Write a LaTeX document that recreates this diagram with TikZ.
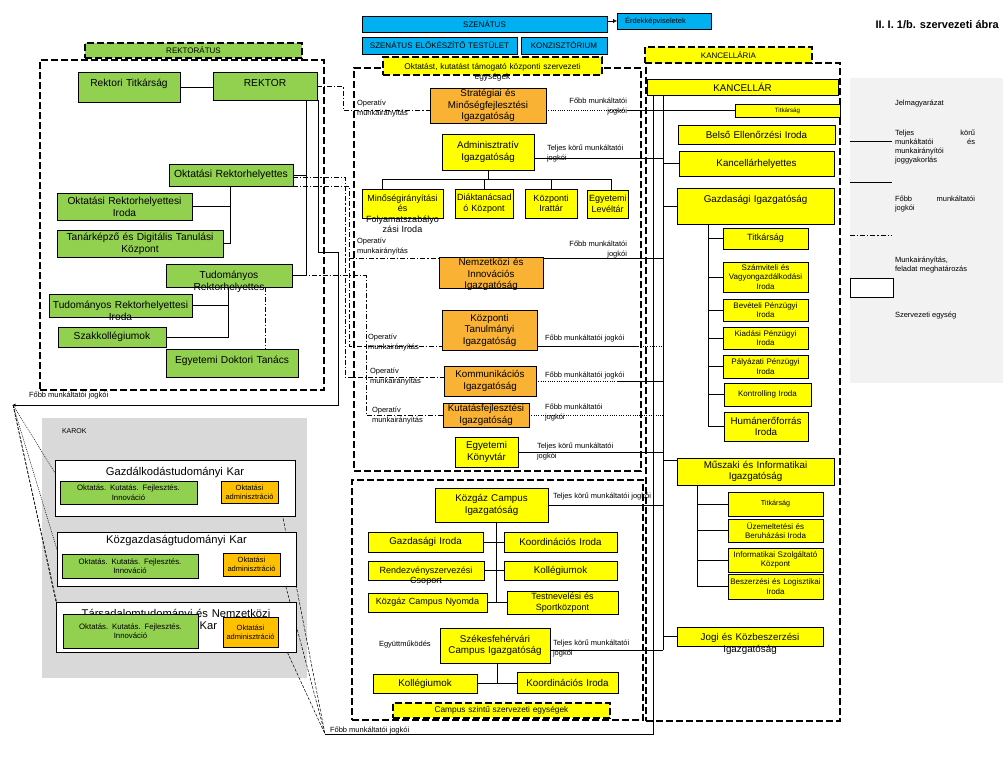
\documentclass[tikz,border=0pt]{standalone}
\usepackage{fontspec}
\setmainfont{Liberation Sans}
\usetikzlibrary{arrows.meta,calc}
\definecolor{cblue}{HTML}{00B0F0}
\definecolor{cgreen}{HTML}{92D050}
\definecolor{cyel}{HTML}{FFFF00}
\definecolor{corg}{HTML}{F9B233}
\definecolor{corgb}{HTML}{FFC000}
\definecolor{cgrey}{HTML}{D9D9D9}
\definecolor{clgrey}{HTML}{F2F2F2}
\newcommand{\ubox}[7]{%
  \pgfmathsetmacro\bxw{#5-#3}%
  \pgfmathsetmacro\bxh{#6-#4}%
  \pgfmathsetmacro\bxtw{max(#5-#3-4,4)}%
  \node[#1, minimum width=\bxw pt, minimum height=\bxh pt, text width=\bxtw pt] (#2) at (#3,#4) {#7};}
\newcommand{\TopTxt}[2][0]{\noindent\raisebox{#1pt}[0pt][0pt]{\parbox[t]{\bxtw pt}{\centering #2}}}
\pgfdeclarelayer{back}
\pgfdeclarelayer{mid}
\pgfsetlayers{back,mid,main}
\tikzset{
  base/.style={draw=black, line width=0.75pt, inner sep=1pt, outer sep=0pt, align=center, anchor=north west},
  bbox/.style={base, fill=cblue, font=\fontsize{8}{9}\selectfont},
  gbox/.style={base, fill=cgreen, font=\fontsize{10.2}{12}\selectfont},
  ybox/.style={base, fill=cyel, font=\fontsize{9.8}{11.5}\selectfont},
  obox/.style={base, fill=corg, font=\fontsize{9.8}{11.5}\selectfont},
  abox/.style={base, fill=corgb, font=\fontsize{7.5}{9}\selectfont},
  kgbox/.style={base, fill=cgreen, font=\fontsize{7.8}{9.5}\selectfont},
  wbox/.style={base, fill=white, font=\fontsize{11.2}{12.5}\selectfont},
  area/.style={base, fill=none, line width=2.6pt, dash pattern=on 7pt off 3pt},
  tagbox/.style={base, fill=cyel, line width=2.6pt, dash pattern=on 7pt off 3pt, font=\fontsize{8.3}{10}\selectfont},
  bg/.style={base, draw=none},
  fs6/.style={font=\fontsize{6.2}{7.5}\selectfont},
  fs7/.style={font=\fontsize{7.2}{8.5}\selectfont},
  fs8/.style={font=\fontsize{8}{9.5}\selectfont},
  fs9/.style={font=\fontsize{9}{10.5}\selectfont},
  fs10/.style={font=\fontsize{10.4}{12}\selectfont},
  dd/.style={dash pattern=on 5pt off 2pt on 1.2pt off 2pt},
  dot/.style={dash pattern=on 1pt off 1.3pt},
  fanA/.style={line width=0.5pt, dash pattern=on 1pt off 1pt},
  fanB/.style={line width=0.5pt, dash pattern=on 3pt off 1.5pt},
  lbl/.style={font=\fontsize{7.5}{9.5}\selectfont, inner sep=0pt, outer sep=0pt, anchor=north west, align=left},
}
\begin{document}
\begin{tikzpicture}[x=1pt,y=-1pt,line width=0.7pt]
\begin{pgfonlayer}{back}
\fill[white] (0,0) rectangle (1008,756);
\ubox{bg, fill=cgrey}{karok}{42}{418}{307}{678}{}
\ubox{bg, fill=clgrey}{legend}{850}{78}{1003}{383}{}
\ubox{area}{rarea}{40}{60}{324}{390}{}
\ubox{area}{marea}{354}{68}{641}{471}{}
\ubox{area}{carea}{352}{480}{643}{720}{}
\ubox{area}{karea}{646}{63}{840}{721}{}
\end{pgfonlayer}
\useasboundingbox (0,0) rectangle (1008,756);

% ---------- top ----------
\ubox{bbox}{szen}{362}{16}{607}{32}{SZENÁTUS}
\ubox{bbox, align=left, font=\fontsize{7.5}{9}\selectfont}{erdek}{617}{13}{711}{29}{\hspace*{6pt}Érdekképviseletek}
\ubox{bbox}{szet}{362}{37}{517}{54}{SZENÁTUS ELŐKÉSZÍTŐ TESTÜLET}
\ubox{bbox}{konz}{521}{37}{607}{54}{KONZISZTÓRIUM}
\node[anchor=east, font=\bfseries\fontsize{11}{13}\selectfont, inner sep=0pt] (title) at (999,25) {II. I. 1/b. szervezeti ábra};

\ubox{tagbox, fill=cgreen, font=\fontsize{8}{9.5}\selectfont}{rektag}{85}{43}{302}{58}{REKTORÁTUS}
\ubox{tagbox}{okttag}{383}{57}{602}{75}{\TopTxt[-3]{Oktatást, kutatást támogató központi szervezeti\\egységek}}
\ubox{tagbox, font=\fontsize{8}{9.5}\selectfont}{kantag}{645}{47}{812}{63}{KANCELLÁRIA}
\ubox{tagbox}{camptag}{393}{703}{610}{718}{Campus szintű szervezeti egységek}

% ---------- rektoratus ----------
\ubox{gbox}{rtitk}{78}{72}{180}{102}{\TopTxt[1]{Rektori Titkárság}}
\ubox{gbox}{rektor}{213}{72}{317}{100}{\TopTxt[0]{REKTOR}}
\ubox{gbox, fs10}{oktrh}{169}{164}{293}{186}{Oktatási Rektorhelyettes}
\ubox{gbox}{oktiroda}{57}{193}{192}{220}{Oktatási Rektorhelyettesi\\Iroda}
\ubox{gbox}{tanark}{57}{230}{223}{257}{Tanárképző és Digitális Tanulási\\Központ}
\ubox{gbox}{tudrh}{166}{264}{292}{287}{\TopTxt[-3]{Tudományos\\Rektorhelyettes}}
\ubox{gbox}{tudiroda}{49}{294}{192}{317}{\TopTxt[-3]{Tudományos Rektorhelyettesi\\Iroda}}
\ubox{gbox}{szakk}{58}{327}{166}{347}{Szakkollégiumok}
\ubox{gbox}{edt}{166}{349}{298}{377}{\TopTxt[0]{Egyetemi Doktori Tanács}}

% ---------- karok ----------
\node[lbl, font=\fontsize{7}{8}\selectfont] (karoklbl) at (62,429) {KAROK};
\ubox{wbox}{gkar}{55}{460}{295}{516}{\TopTxt[13]{Gazdálkodástudományi Kar}}
\ubox{kgbox}{ggreen}{60}{481}{197}{504}{Oktatás. Kutatás. Fejlesztés.\\Innováció}
\ubox{abox}{gadm}{221}{481}{278}{503}{Oktatási\\adminisztráció}
\ubox{wbox}{kkar}{57}{532}{296}{586}{\TopTxt[15.5]{Közgazdaságtudományi Kar}}
\ubox{kgbox}{kgreen}{62}{554}{198}{578}{Oktatás. Kutatás. Fejlesztés.\\Innováció}
\ubox{abox}{kadm}{223}{553}{280}{576}{Oktatási\\adminisztráció}
\ubox{wbox}{tkar}{56}{602}{296}{652}{\TopTxt[10]{Társadalomtudományi és Nemzetközi\\Kapcsolatok Kar}}
\ubox{kgbox}{tgreen}{63}{614}{198}{648}{Oktatás. Kutatás. Fejlesztés.\\Innováció}
\ubox{abox}{tadm}{223}{617}{278}{647}{Oktatási\\adminisztráció}

% ---------- middle ----------
\ubox{obox}{strat}{430}{88}{546}{123}{Stratégiai és\\Minőségfejlesztési\\Igazgatóság}
\ubox{ybox}{admin}{442}{134}{534}{170}{Adminisztratív\\Igazgatóság}
\ubox{ybox, fs9}{minos}{362}{189}{443}{218}{\TopTxt[2.5]{Minőségirányítási\\és\\Folyamatszabályo\\zási Iroda}}
\ubox{ybox, fs9}{diak}{455}{189}{513}{218}{Diáktanácsad\\ó Központ}
\ubox{ybox, fs9}{irattar}{525}{189}{577}{218}{Központi\\Irattár}
\ubox{ybox, fs9}{levtar}{587}{190}{628}{218}{Egyetemi\\Levéltár}
\ubox{obox}{nemz}{439}{257}{543}{288}{\TopTxt[7]{Nemzetközi és\\Innovációs\\Igazgatóság}}
\ubox{obox}{kti}{442}{310}{537}{350}{Központi\\Tanulmányi\\Igazgatóság}
\ubox{obox}{komm}{444}{366}{536}{396}{Kommunikációs\\Igazgatóság}
\ubox{obox}{kfi}{443}{403}{529}{427}{Kutatásfejlesztési\\Igazgatóság}
\ubox{ybox}{konyv}{455}{437}{518}{467}{Egyetemi\\Könyvtár}

% ---------- campus ----------
\ubox{ybox}{kcamp}{435}{488}{548}{522}{Közgáz Campus\\Igazgatóság}
\ubox{ybox}{gazdiroda}{368}{532}{483}{552}{Gazdasági Iroda}
\ubox{ybox}{koord1}{504}{532}{617}{552}{Koordinációs Iroda}
\ubox{ybox, fs9}{rendezv}{368}{561}{484}{580}{\TopTxt[-2.5]{Rendezvényszervezési\\Csoport}}
\ubox{ybox}{koll1}{504}{561}{617}{580}{Kollégiumok}
\ubox{ybox, fs9}{nyomda}{368}{593}{487}{612}{Közgáz Campus Nyomda}
\ubox{ybox, fs9}{testnev}{507}{591}{618}{614}{Testnevelési és\\Sportközpont}
\ubox{ybox}{szfv}{440}{628}{550}{663}{Székesfehérvári\\Campus Igazgatóság}
\ubox{ybox}{koll2}{373}{674}{477}{693}{Kollégiumok}
\ubox{ybox}{koord2}{517}{672}{618}{693}{Koordinációs Iroda}

% ---------- kancellaria ----------
\ubox{ybox}{kanc}{647}{79}{838}{95}{KANCELLÁR}
\ubox{ybox, fs6}{ktitk}{735}{104}{840}{117}{Titkárság}
\ubox{ybox}{belso}{678}{125}{835}{144}{Belső Ellenőrzési Iroda}
\ubox{ybox}{khely}{679}{151}{834}{176}{Kancellárhelyettes}
\ubox{ybox}{gazd}{677}{188}{834}{224}{\TopTxt[4]{Gazdasági Igazgatóság}}
\ubox{ybox, fs9}{gtitk}{723}{228}{808}{249}{Titkárság}
\ubox{ybox, fs8}{szamv}{723}{262}{808}{292}{Számviteli és\\Vagyongazdálkodási\\Iroda}
\ubox{ybox, fs8}{bevet}{723}{299}{808}{321}{Bevételi Pénzügyi\\Iroda}
\ubox{ybox, fs8}{kiad}{723}{327}{808}{349}{Kiadási Pénzügyi\\Iroda}
\ubox{ybox, fs8}{palyaz}{723}{355}{808}{378}{Pályázati Pénzügyi\\Iroda}
\ubox{ybox, fs8}{kontr}{724}{383}{811}{406}{Kontrolling Iroda}
\ubox{ybox}{human}{724}{412}{808}{441}{Humánerőforrás\\Iroda}
\ubox{ybox}{musz}{677}{458}{834}{485}{Műszaki és Informatikai\\Igazgatóság}
\ubox{ybox, fs7}{mtitk}{728}{492}{823}{516}{Titkárság}
\ubox{ybox, fs8}{uzem}{728}{519}{823}{542}{Üzemeltetési és\\Beruházási Iroda}
\ubox{ybox, fs8}{infsz}{728}{548}{823}{572}{Informatikai Szolgáltató\\Központ}
\ubox{ybox, fs8}{beszer}{728}{574}{823}{599}{Beszerzési és Logisztikai\\Iroda}
\ubox{ybox}{jogi}{677}{627}{823}{646}{\TopTxt[-4]{Jogi és Közbeszerzési\\Igazgatóság}}

% ---------- coordinates ----------
\coordinate (rT) at (306,0);
\coordinate (oT) at (230,0);
\coordinate (tT) at (228,0);
\coordinate (dE) at (265,0);
\coordinate (rA) at (318,252);
\coordinate (rB) at (338,252);
\coordinate (rC) at (338,405);
\coordinate (F) at (13,405);
\coordinate (C) at (325,734);
\coordinate (dA1) at (343,86);
\coordinate (dA2) at (343,110);
\coordinate (dB) at (345,177);
\coordinate (dBb) at (345,377);
\coordinate (dC) at (349,186);
\coordinate (dCb) at (349,346);
\coordinate (dN) at (349,258);
\coordinate (dD) at (366,275.5);
\coordinate (dDb) at (366,415);
\coordinate (kT1) at (653,0);
\coordinate (kT2) at (663,0);
\coordinate (xS) at (627,0);
\coordinate (xK) at (638,0);
\coordinate (xM) at (617,0);
\coordinate (bus) at (488,179);
\coordinate (gT) at (708,0);
\coordinate (mT) at (697,0);
\coordinate (cT) at (496,0);
\coordinate (sT) at (497,0);

\begin{pgfonlayer}{mid}
% top
\draw[-{Latex[length=4pt,width=4pt]}] (szen.east |- erdek.west) -- (erdek.west);
% rektoratus
\draw (rtitk.east) -- (rtitk.east -| rektor.west);
\draw (rektor.south -| rT) |- (tudrh.east);
\draw (rT |- oktrh.east) -- (oktrh.east);
\draw (oktrh.south -| oT) |- (tanark.east);
\draw (oT |- oktiroda.east) -- (oktiroda.east);
\draw (tudrh.south -| tT) |- (szakk.east);
\draw (tT |- tudiroda.east) -- (tudiroda.east);
\draw[dd] (tudrh.south -| dE) -- (edt.north -| dE);
\draw[-{Stealth[length=3pt,width=3pt]}] (rektor.south -| rA) -- (rA) -- (rB) -- (rC) -- (F);
% operativ munkairanyitas
\draw[dd] (rektor.east) -- (dA1) -- (dA2) -- (strat.west |- dA2);
\draw[dd] ($(oktrh.east)+(0,2)$) -- (dB) -- (dBb) -- (komm.west |- dBb);
\draw[dd] (oktrh.south east) -- (dC) -- (dCb) -- (kti.west |- dCb);
\draw[dd] (dN) -- (nemz.west |- dN);
\draw[dd] (tudrh.east) -- (dD) -- (dDb) -- (kfi.west);
% karok fan
\draw[fanA] (F) -- (ggreen.north west);
\draw[fanA] (F) -- (kgreen.west);
\draw[fanB] (F) -- (tkar.north west);
\draw[fanB] (F) -- (tgreen.west);
\draw[fanB] (gadm.east) -- (C);
\draw[fanB] (kadm.east) -- (C);
\draw[fanB] (tadm.east) -- (C);
% kancellar trunks
\draw (kanc.south -| kT1) -- (kT1 |- C) -- (C);
\draw (kanc.south -| kT2) -- ($(kT2 |- szfv.east)+(0,4.5)$);
% middle to kancellar
\draw[dot] (strat.east |- ktitk.west) -- (xS |- ktitk.west);
\draw (xS |- ktitk.west) -- (ktitk.west);
\draw ($(admin.east)+(0,6)$) -- ($(kT2 |- admin.east)+(0,6)$);
\draw (kT2 |- khely.west) -- (khely.west);
\draw (kT2 |- gazd.west) -- (gazd.west);
\draw (nemz.east |- dN) -- (kT2 |- dN);
\draw (kti.east |- dCb) -- (xK |- dCb);
\draw[dot] (xK |- dCb) -- (kT2 |- dCb);
\draw[dot] (komm.east) -- (xM |- komm.east);
\draw (xM |- komm.east) -- (kT2 |- komm.east);
\draw[dot] (kfi.east) -- (kT2 |- kfi.east);
\draw (konyv.east) -- (kT2 |- konyv.east);
\draw (kcamp.east) -- (kT2 |- kcamp.east);
\draw ($(szfv.east)+(0,4.5)$) -- ($(kT2 |- szfv.east)+(0,4.5)$);
\draw ($(kT2 |- musz.west)+(0,-11)$) -- ($(musz.west)+(0,-11)$);
\draw (kT2 |- jogi.west) -- (jogi.west);
% adminisztrativ bus
\draw (admin.south) -- (bus);
\draw ($(minos.north west)+(20,0)$) |- ($(levtar.north)+(3.5,-11)$) -- ($(levtar.north)+(3.5,0)$);
\draw (diak.north) -- (diak.north |- bus);
\draw (irattar.north) -- (irattar.north |- bus);
% gazdasagi
\draw (gazd.south -| gT) |- (human.west);
\foreach \c in {gtitk,szamv,bevet,kiad,palyaz,kontr} \draw (gT |- \c.west) -- (\c.west);
% muszaki
\draw (musz.south -| mT) |- (beszer.west);
\foreach \c in {mtitk,uzem,infsz} \draw (mT |- \c.west) -- (\c.west);
% campus
\draw (kcamp.south -| cT) -- (cT |- nyomda.east);
\draw (gazdiroda.east) -- (koord1.west);
\draw (rendezv.east) -- (koll1.west);
\draw (nyomda.east) -- (testnev.west);
\draw (szfv.south -| sT) -- (sT |- koll2.east);
\draw (koll2.east) -- (koll2.east -| koord2.west);
\end{pgfonlayer}

% ---------- labels ----------
\node[lbl] (l1) at (357,100) {Operatív\\munkairányítás};
\node[lbl, anchor=north east, align=right] (l2) at (627,98) {Főbb munkáltatói\\jogkói};
\node[lbl] (l3) at (547,145) {Teljes körű munkáltatói\\jogkói};
\node[lbl] (l4) at (357,238) {Operatív\\munkairányítás};
\node[lbl, anchor=north east, align=right] (l5) at (627,241) {Főbb munkáltatói\\jogkói};
\node[lbl] (l6) at (368,334) {Operatív\\munkairányítás};
\node[lbl] (l7) at (545,335) {Főbb munkáltatói jogkói};
\node[lbl] (l8) at (370,368) {Operatív\\munkairányítás};
\node[lbl] (l9) at (545,372) {Főbb munkáltatói jogkói};
\node[lbl] (l10) at (372,407) {Operatív\\munkairányítás};
\node[lbl] (l11) at (545,404) {Főbb munkáltatói\\jogkói};
\node[lbl] (l12) at (537,443) {Teljes körű munkáltatói\\jogkói};
\node[lbl] (l13) at (553,493) {Teljes körű munkáltatói jogkói};
\node[lbl] (l14) at (379,641) {Együttműködés};
\node[lbl] (l15) at (553,640) {Teljes körű munkáltatói\\jogkói};
\node[lbl] (l16) at (29,392) {Főbb munkáltatói jogkói};
\node[lbl] (l17) at (330,727) {Főbb munkáltatói jogkói};

% ---------- legend ----------
\node[lbl] (j0) at (895,100) {Jelmagyarázat};
\draw (850,141) -- (892,141);
\node[lbl, text width=80pt, font=\fontsize{7.5}{9}\selectfont] (j1) at (895,130) {Teljes\hfill körű\\munkáltatói\hfill és\\munkairányítói\\joggyakorlás};
\draw (850,182) -- (892,182);
\node[lbl, text width=80pt, font=\fontsize{7.5}{9}\selectfont] (j2) at (895,196) {Főbb\hfill munkáltatói\\jogkói};
\draw[dd] (850,235) -- (892,235);
\node[lbl, font=\fontsize{7.5}{9}\selectfont] (j3) at (895,257) {Munkairányítás,\\feladat meghatározás};
\draw[fill=white] (850,278) rectangle (893,297);
\node[lbl] (j4) at (895,312) {Szervezeti egység};
\end{tikzpicture}
\end{document}
